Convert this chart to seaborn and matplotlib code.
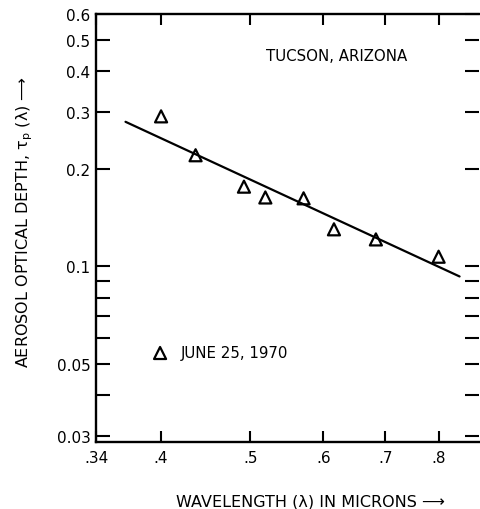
import matplotlib
matplotlib.use("Agg")
import matplotlib.pyplot as plt
import seaborn as sns
import pandas as pd
from matplotlib.ticker import FixedLocator, FixedFormatter, NullFormatter

# ---- data ----
wavelength = [0.400, 0.436, 0.492, 0.519, 0.571, 0.616, 0.684, 0.800]
depth = [0.290, 0.220, 0.176, 0.163, 0.162, 0.130, 0.121, 0.107]
fit_wavelength = [0.366, 0.843]
fit_depth = [0.279, 0.093]

x_ticks = [0.34, 0.4, 0.5, 0.6, 0.7, 0.8]
x_tick_labels = [".34", ".4", ".5", ".6", ".7", ".8"]
y_major = [0.03, 0.05, 0.1, 0.2, 0.3, 0.4, 0.5, 0.6]
y_major_labels = ["0.03", "0.05", "0.1", "0.2", "0.3", "0.4", "0.5", "0.6"]
y_minor = [0.04, 0.06, 0.07, 0.08, 0.09]

points = pd.DataFrame({"wavelength": wavelength, "depth": depth})
fit = pd.DataFrame({"wavelength": fit_wavelength, "depth": fit_depth})

sns.set_theme(style="ticks")
plt.rcParams["font.family"] = ["DejaVu Sans"]
plt.rcParams["text.color"] = "black"
plt.rcParams["mathtext.default"] = "regular"

fig = plt.figure(figsize=(4.8, 5.1), dpi=100)
ax = fig.add_axes([0.2, 0.1314, 0.798, 0.8392])

sns.lineplot(data=fit, x="wavelength", y="depth", ax=ax, color="black", linewidth=1.6)
sns.scatterplot(data=points, x="wavelength", y="depth", ax=ax, marker="^", s=75,
                facecolors="none", edgecolor="black", linewidth=1.6, zorder=3)

ax.set_xscale("log")
ax.set_yscale("log")
ax.set_xlim(0.34, 0.885)
ax.set_ylim(0.0287, 0.6)

ax.xaxis.set_major_locator(FixedLocator(x_ticks))
ax.xaxis.set_major_formatter(FixedFormatter(x_tick_labels))
ax.xaxis.set_minor_locator(FixedLocator([]))
ax.xaxis.set_minor_formatter(NullFormatter())
ax.yaxis.set_major_locator(FixedLocator(y_major))
ax.yaxis.set_major_formatter(FixedFormatter(y_major_labels))
ax.yaxis.set_minor_locator(FixedLocator(y_minor))
ax.yaxis.set_minor_formatter(NullFormatter())

ax.tick_params(axis="y", which="both", direction="in", length=10, width=1.5,
               left=True, right=True, labelsize=11, colors="black", pad=4)
ax.tick_params(axis="x", which="both", direction="in", length=8, width=1.5,
               bottom=True, top=True, labelsize=11, colors="black", pad=6)

for side in ["left", "bottom", "top"]:
    ax.spines[side].set_linewidth(1.7)
    ax.spines[side].set_color("black")
ax.spines["right"].set_visible(False)

ax.set_xlabel("")
ax.set_ylabel("")

ax.text(0.445, 0.902, "TUCSON, ARIZONA", transform=ax.transAxes, fontsize=10.8,
        va="center", color="black")
ax.scatter([0.399], [0.054], marker="^", s=75, facecolors="none",
           edgecolors="black", linewidths=1.6)
ax.text(0.4203, 0.054, "JUNE 25, 1970", fontsize=10.8, va="center", color="black")

fig.text(0.052, 0.565, "AEROSOL OPTICAL DEPTH, $\\tau_p$ (λ) ⟶", rotation=90,
         ha="center", va="center", fontsize=11.5, color="black")
fig.text(0.646, 0.016, "WAVELENGTH (λ) IN MICRONS ⟶", ha="center",
         va="center", fontsize=11.5, color="black")

fig.savefig("out.png", dpi=100, facecolor="white")
